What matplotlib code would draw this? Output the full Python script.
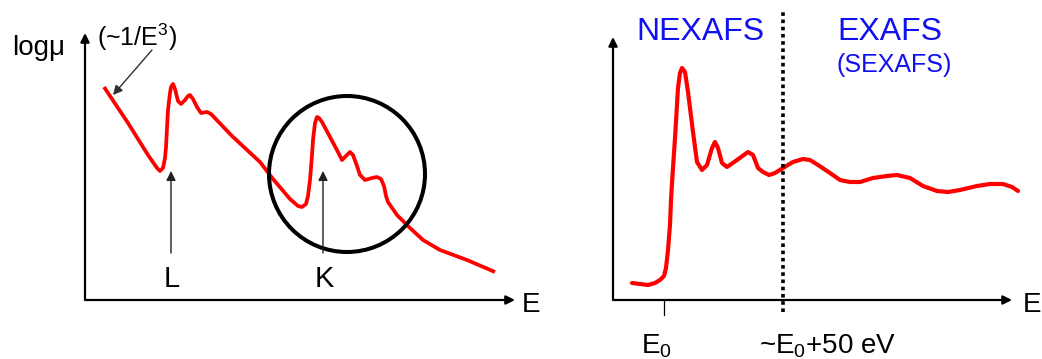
import matplotlib
matplotlib.use("Agg")
import matplotlib.pyplot as plt
from matplotlib.patches import Circle

plt.rcParams['font.family'] = ['Liberation Sans', 'DejaVu Sans']
plt.rcParams['mathtext.fontset'] = 'custom'
plt.rcParams['mathtext.rm'] = 'Liberation Sans'
plt.rcParams['mathtext.it'] = 'Liberation Sans:italic'

# ---- data: left panel (log mu vs E, schematic) ----
left_E = [19, 31, 43, 63, 72, 75, 78, 80, 81, 82, 83, 85, 86, 88, 90, 93, 96, 100,
          103, 105, 108, 112, 116, 122, 126, 147, 175, 188, 205, 213, 217, 221, 223,
          225, 227, 228, 230, 232, 234, 237, 245, 253, 257, 261, 265, 268, 272, 275,
          280, 287, 292, 296, 299, 301, 303, 312, 325, 338, 355, 382, 410]
left_mu = [213, 195, 177, 145, 132, 129, 132, 142, 153, 172, 190, 207, 213, 216, 211,
           199, 196, 200, 204, 205, 201, 193, 187, 188, 186, 164, 138, 121, 101, 94,
           93, 96, 104, 120, 145, 160, 177, 183, 182, 178, 163, 148, 140, 144, 148,
           145, 134, 125, 120, 122, 123, 121, 114, 104, 98, 85, 72, 60, 50, 40, 28]

# ---- data: right panel (NEXAFS / EXAFS) ----
right_E = [19, 27, 35, 42, 47, 51, 53, 55, 57, 58, 59, 62, 65, 67, 69, 72, 75, 80, 84,
           89, 94, 99, 102, 105, 109, 114, 124, 135, 140, 145, 150, 156, 162, 170, 180,
           190, 197, 205, 217, 227, 237, 247, 260, 274, 284, 297, 310, 324, 335, 347,
           364, 377, 390, 399, 405]
right_mu = [17, 16, 15, 17, 20, 24, 32, 50, 75, 100, 117, 162, 212, 227, 232, 228, 208,
            168, 138, 130, 135, 152, 158, 152, 137, 133, 140, 148, 145, 132, 128, 125,
            127, 132, 138, 141, 140, 135, 127, 120, 118, 118, 122, 124, 125, 122, 114,
            109, 108, 110, 114, 116, 116, 113, 109]

edge_labels = ["L", "K"]
edge_E = [86, 238]
E0_tick = 51
boundary_E = 170

RED = '#ff0000'
BLUE = '#1010f0'

W, H = 1042, 359
fig = plt.figure(figsize=(W / 100, H / 100), dpi=100)

def make_ax(x0, y0, w, h):
    ax = fig.add_axes([x0 / W, (H - y0) / H, w / W, h / H])
    ax.set_xlim(0, w)
    ax.set_ylim(0, h)
    ax.axis('off')
    return ax

def axis_arrows(ax, w, h):
    ap = dict(arrowstyle='-|>', lw=1.6, color='black', mutation_scale=13,
              shrinkA=0, shrinkB=0)
    ax.annotate('', xy=(w, 0), xytext=(0, 0), arrowprops=ap, annotation_clip=False)
    ax.annotate('', xy=(0, h), xytext=(0, 0), arrowprops=ap, annotation_clip=False)

# ---------------- left panel ----------------
axL = make_ax(85, 300, 430, 267)
axis_arrows(axL, 430, 267)
axL.plot(left_E, left_mu, color=RED, lw=2.7, solid_joinstyle='round',
         solid_capstyle='butt', clip_on=False, zorder=3)
axL.add_patch(Circle((262, 126), 78, fill=False, lw=2.9, ec='black', zorder=4,
                     clip_on=False))
for lab, e in zip(edge_labels, edge_E):
    axL.annotate('', xy=(e, 129), xytext=(e, 47),
                 arrowprops=dict(arrowstyle='-|>', lw=1.0, color='#202020',
                                 mutation_scale=14, shrinkA=0, shrinkB=0),
                 annotation_clip=False, zorder=5)
    axL.text(e + 1, 13, lab, fontsize=21, ha='center', va='baseline', color='black')
axL.annotate('', xy=(28, 205), xytext=(67, 250),
             arrowprops=dict(arrowstyle='-|>', lw=1.0, color='#303030',
                             mutation_scale=14, shrinkA=0, shrinkB=0),
             annotation_clip=False)
axL.text(-73, 245, 'logμ', fontsize=20, ha='left', va='baseline')
axL.text(12, 254, r'(~1/E$^{\mathrm{3}}$)', fontsize=18, ha='left', va='baseline')
axL.text(437, -12, 'E', fontsize=20, ha='left', va='baseline')

# ---------------- right panel ----------------
axR = make_ax(613, 300, 399, 263)
axis_arrows(axR, 399, 263)
axR.plot(right_E, right_mu, color=RED, lw=3.0, solid_joinstyle='round',
         solid_capstyle='round', clip_on=False, zorder=3)
axR.plot([boundary_E, boundary_E], [-12, 288], color='black', lw=2.6,
         linestyle=(0, (1, 1)), clip_on=False, zorder=4)
axR.plot([E0_tick, E0_tick], [0, -15], color='black', lw=0.9, clip_on=False)
axR.text(87, 260, 'NEXAFS', fontsize=23, color=BLUE, ha='center', va='baseline')
axR.text(224, 260, 'EXAFS', fontsize=23, color=BLUE, ha='left', va='baseline')
axR.text(224, 228, '(SEXAFS)', fontsize=18, color=BLUE, ha='left', va='baseline')
axR.text(43, -53, r'E$_{\mathrm{0}}$', fontsize=20, ha='center', va='baseline')
axR.text(215, -53, r'~E$_{\mathrm{0}}$+50 eV', fontsize=20, ha='center', va='baseline')
axR.text(410, -12, 'E', fontsize=20, ha='left', va='baseline')

fig.savefig('out.png', dpi=100)
